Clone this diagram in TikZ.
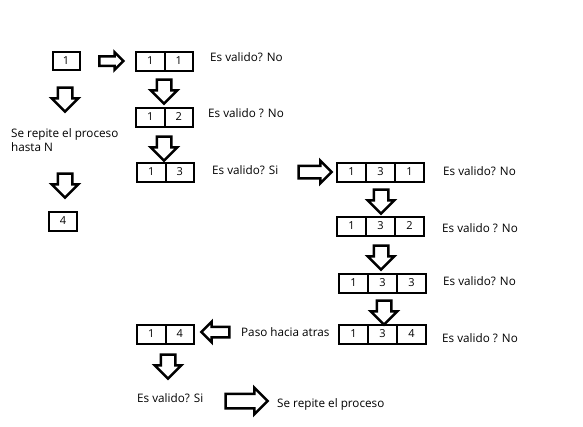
\documentclass[tikz,border=0pt]{standalone}
\usepackage{fontspec}
\setmainfont{Open Sans}
\usetikzlibrary{positioning,shapes.arrows}
\tikzset{
  cell/.style={draw, line width=2pt, minimum width=28.5pt, minimum height=19pt,
    inner sep=0pt, outer sep=0pt, font=\fontsize{11}{13}\selectfont},
  wide/.style={cell, minimum width=29pt},
  lbl/.style={anchor=west, inner sep=0pt, font=\fontsize{11.7}{14}\selectfont},
  blockarrow/.style={single arrow, draw, line width=2.5pt, fill=white, inner sep=6pt,
    single arrow head extend=6pt, minimum height=24pt},
  arrowdown/.style={blockarrow, shape border rotate=270},
  arrowleft/.style={blockarrow, shape border rotate=180},
  arrowright/.style={blockarrow}
}
\begin{document}
\begin{tikzpicture}[x=1pt,y=-1pt]
  \useasboundingbox (0,0) rectangle (583,426);
  % left column
  \node[cell, minimum width=27pt, minimum height=18pt] (one) at (66,61) {1};
  \node[arrowdown] (d7) at (65,96) {};
  \node[lbl, align=left] (rep) at (11,140) {Se repite el proceso\\hasta N};
  \node[arrowdown] (d8) at (65,182) {};
  \node[cell, minimum width=28pt, minimum height=19pt] (four) at (63,221) {4};
  % first column of pairs
  \node[arrowright, inner sep=3.5pt, single arrow head extend=4pt, minimum height=24pt] (r1) at (109,61) {};
  \node[cell, anchor=west] (aa) at (136,61) {1};
  \node[cell, right=0pt of aa] (ab) {1};
  \node[lbl] (ta) at (210,57) {Es valido? No};
  \node[arrowdown] (d1) at (164,88) {};
  \node[cell, anchor=west] (ba) at (136,117) {1};
  \node[cell, right=0pt of ba] (bb) {2};
  \node[lbl] (tb) at (208,113) {Es valido ? No};
  \node[arrowdown] (d2) at (164,145) {};
  \node[cell, anchor=west] (ca) at (137,172) {1};
  \node[cell, right=0pt of ca] (cb) {3};
  \node[lbl] (tc) at (212,170) {Es valido? Si};
  \node[arrowright, inner sep=5pt, single arrow head extend=5pt, minimum height=33pt] (r2) at (312,172) {};
  % triples
  \node[wide, anchor=west] (da) at (337,172) {1};
  \node[wide, right=0pt of da] (db) {3};
  \node[wide, right=0pt of db] (dc) {1};
  \node[lbl] (td) at (443,171) {Es valido? No};
  \node[arrowdown] (d3) at (381,198) {};
  \node[wide, anchor=west] (ea) at (337,226) {1};
  \node[wide, right=0pt of ea] (eb) {3};
  \node[wide, right=0pt of eb] (ec) {2};
  \node[lbl] (te) at (442,228) {Es valido ? No};
  \node[arrowdown] (d4) at (381,254) {};
  \node[wide, anchor=west] (fa) at (339,283) {1};
  \node[wide, right=0pt of fa] (fb) {3};
  \node[wide, right=0pt of fb] (fc) {3};
  \node[lbl] (tf) at (443,281) {Es valido? No};
  \node[arrowdown] (d5) at (384,309) {};
  \node[wide, anchor=west] (ga) at (339,334) {1};
  \node[wide, right=0pt of ga] (gb) {3};
  \node[wide, right=0pt of gb] (gc) {4};
  \node[lbl] (tg) at (442,338) {Es valido ? No};
  % back step
  \node[lbl] (back) at (241,332) {Paso hacia atras};
  \node[arrowleft, inner sep=4pt, single arrow head extend=5pt, minimum height=28pt] (l1) at (218,332) {};
  \node[cell, anchor=west] (ha) at (137,334) {1};
  \node[cell, right=0pt of ha] (hb) {4};
  \node[arrowdown] (d6) at (168,363) {};
  \node[lbl] (th) at (137,398) {Es valido? Si};
  \node[arrowright, inner sep=6pt, single arrow head extend=6pt, minimum height=42pt] (r3) at (243,401) {};
  \node[lbl] (end) at (277,404) {Se repite el proceso};
\end{tikzpicture}
\end{document}
